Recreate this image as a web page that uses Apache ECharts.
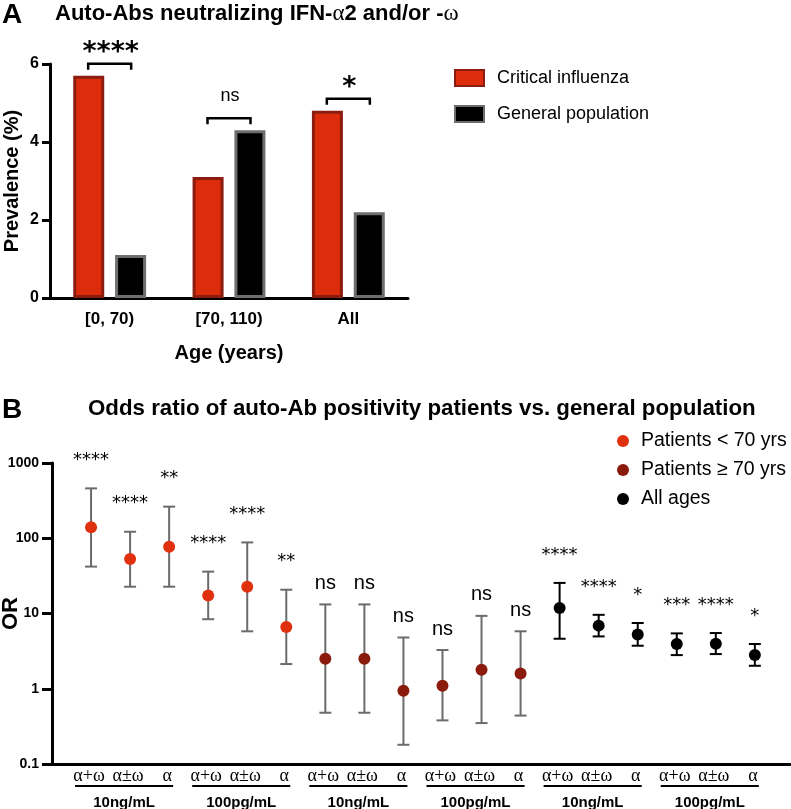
<!DOCTYPE html>
<html>
<head>
<meta charset="utf-8">
<script src="https://cdn.jsdelivr.net/npm/echarts@6/dist/echarts.min.js"></script>
<style>
html, body { margin: 0; padding: 0; background: #fff; }
#main { width: 791px; height: 809px; }
</style>
</head>
<body>
<div id="main"></div>
<script>
// ---- panel A : prevalence ----
var ageGroups = ['[0, 70)', '[70, 110)', 'All'];
var criticalFlu = [5.7, 3.1, 4.8];
var generalPop = [1.1, 4.3, 2.2];
var sigA = ['****', 'ns', '*'];

// ---- panel B : odds ratios ----
var subLabels = ['α+ω', 'α±ω', 'α', 'α+ω', 'α±ω', 'α',
                 'α+ω', 'α±ω', 'α', 'α+ω', 'α±ω', 'α',
                 'α+ω', 'α±ω', 'α', 'α+ω', 'α±ω', 'α'];
var concLabels = ['10ng/mL', '100pg/mL', '10ng/mL', '100pg/mL', '10ng/mL', '100pg/mL'];

var orUnder70 = [140, 53, 77, 17.4, 22.7, 6.6];
var loUnder70 = [42, 22.7, 22.7, 8.4, 5.8, 2.13];
var hiUnder70 = [460, 122, 263, 36, 88, 20.7];
var sigUnder70 = ['****', '****', '**', '****', '****', '**'];

var orOver70 = [2.5, 2.5, 0.94, 1.1, 1.79, 1.6];
var loOver70 = [0.48, 0.48, 0.18, 0.38, 0.35, 0.44];
var hiOver70 = [13.2, 13.2, 4.8, 3.27, 9.3, 5.8];
var sigOver70 = ['ns', 'ns', 'ns', 'ns', 'ns', 'ns'];

var orAll = [11.8, 6.9, 5.27, 3.93, 3.97, 2.8];
var loAll = [4.62, 4.96, 3.73, 2.8, 2.89, 2.02];
var hiAll = [25.5, 9.6, 7.48, 5.44, 5.5, 3.93];
var sigAll = ['****', '****', '*', '***', '****', '*'];

var RED = '#e0300e', DARKRED = '#8a1a0c', GREY = '#6b6b6b';
var SANS = 'Liberation Sans, Arial, sans-serif';
var SERIF = 'Liberation Serif, Times New Roman, serif';

var chart = echarts.init(document.getElementById('main'));

function isStars(s) { return s.indexOf('*') >= 0; }

// points of each age group sit at x = offset .. offset+5
function points(vals, offset) {
  return vals.map(function (v, i) { return [offset + i, v]; });
}
function bars(lo, hi, offset) {
  return lo.map(function (v, i) { return [offset + i, v, hi[i]]; });
}

function errorBars(sigs, color) {
  return function (params, api) {
    var x = api.value(0);
    var lo = api.coord([x, api.value(1)]);
    var hi = api.coord([x, api.value(2)]);
    var st = { stroke: color, lineWidth: 2 };
    var s = sigs[params.dataIndex];
    return {
      type: 'group',
      children: [
        { type: 'line', shape: { x1: lo[0], y1: lo[1], x2: hi[0], y2: hi[1] }, style: st },
        { type: 'line', shape: { x1: lo[0] - 6, y1: lo[1], x2: lo[0] + 6, y2: lo[1] }, style: st },
        { type: 'line', shape: { x1: hi[0] - 6, y1: hi[1], x2: hi[0] + 6, y2: hi[1] }, style: st },
        {
          type: 'text', x: hi[0], y: hi[1] - (isStars(s) ? 28 : 21),
          style: {
            text: s, fill: '#000', align: 'center', verticalAlign: 'middle',
            fontSize: isStars(s) ? 18 : 20,
            fontFamily: isStars(s) ? 'DejaVu Sans' : SANS
          }
        }
      ]
    };
  };
}

var option = {
  backgroundColor: '#fff',
  animation: false,
  title: [
    { text: 'A', left: 2, top: 1, padding: 0,
      textStyle: { fontSize: 28, fontWeight: 'bold', color: '#000', fontFamily: SANS } },
    { text: 'Auto-Abs neutralizing IFN-{g|α}2 and/or -{g|ω}', left: 55, top: 2, padding: 0,
      textStyle: { fontSize: 22, fontWeight: 'bold', color: '#000', fontFamily: SANS,
        rich: { g: { fontSize: 23, fontWeight: 'normal', fontFamily: SERIF, color: '#000' } } } },
    { text: 'B', left: 2, top: 396, padding: 0,
      textStyle: { fontSize: 28, fontWeight: 'bold', color: '#000', fontFamily: SANS } },
    { text: 'Odds ratio of auto-Ab positivity patients vs. general population', left: 88, top: 398, padding: 0,
      textStyle: { fontSize: 22.3, fontWeight: 'bold', color: '#000', fontFamily: SANS } }
  ],
  legend: [
    { data: ['Critical influenza', 'General population'], orient: 'vertical', padding: 0,
      left: 454, top: 69, itemWidth: 29, itemHeight: 16, itemGap: 18, icon: 'rect',
      textStyle: { fontSize: 18, color: '#000', fontFamily: SANS, padding: [0, 0, 0, 8] } },
    { data: ['Patients < 70 yrs', 'Patients ≥ 70 yrs', 'All ages'], orient: 'vertical', padding: 0,
      left: 617, top: 431, itemWidth: 12, itemHeight: 12, itemGap: 9, icon: 'circle',
      textStyle: { fontSize: 19.5, color: '#000', fontFamily: SANS, padding: [0, 0, 0, 7] } }
  ],
  grid: [
    { left: 50, top: 64, width: 358, height: 234, outerBoundsMode: 'none' },
    { left: 52, top: 463, width: 738, height: 301, outerBoundsMode: 'none' }
  ],
  xAxis: [
    { gridIndex: 0, type: 'category', data: ageGroups,
      axisLine: { lineStyle: { color: '#000', width: 3 } },
      axisTick: { alignWithLabel: true, length: 8, lineStyle: { color: '#000', width: 3 } },
      axisLabel: { fontSize: 17, fontWeight: 'bold', color: '#000', fontFamily: SANS, margin: 13 },
      name: 'Age (years)', nameLocation: 'middle', nameGap: 45, nameMoveOverlap: false,
      nameTextStyle: { fontSize: 20, fontWeight: 'bold', color: '#000', fontFamily: SANS } },
    { gridIndex: 1, type: 'value', min: -1, max: 17.9,
      axisLine: { onZero: false, lineStyle: { color: '#000', width: 3 } },
      axisTick: { show: false }, axisLabel: { show: false }, splitLine: { show: false } }
  ],
  yAxis: [
    { gridIndex: 0, type: 'value', min: 0, max: 6, interval: 2,
      axisLine: { show: true, onZero: false, lineStyle: { color: '#000', width: 3 } },
      axisTick: { show: true, length: 8, lineStyle: { color: '#000', width: 3 } },
      axisLabel: { fontSize: 16, fontWeight: 'bold', color: '#000', fontFamily: SANS, margin: 11 },
      splitLine: { show: false },
      name: 'Prevalence (%)', nameLocation: 'middle', nameGap: 28, nameMoveOverlap: false,
      nameTextStyle: { fontSize: 20, fontWeight: 'bold', color: '#000', fontFamily: SANS } },
    { gridIndex: 1, type: 'log', logBase: 10, min: 0.1, max: 1000,
      axisLine: { show: true, onZero: false, lineStyle: { color: '#000', width: 3 } },
      axisTick: { show: true, length: 10, lineStyle: { color: '#000', width: 3 } },
      minorTick: { show: false },
      axisLabel: { fontSize: 14, fontWeight: 'bold', color: '#000', fontFamily: SANS, margin: 13,
        formatter: function (v) { return String(+v.toPrecision(6)); } },
      splitLine: { show: false },
      name: 'OR', nameLocation: 'middle', nameGap: 30, nameMoveOverlap: false,
      nameTextStyle: { fontSize: 22, fontWeight: 'bold', color: '#000', fontFamily: SANS } }
  ],
  series: [
    { type: 'bar', name: 'Critical influenza', xAxisIndex: 0, yAxisIndex: 0, data: criticalFlu,
      barWidth: 31, barGap: '35%',
      itemStyle: { color: '#dd2c0c', borderColor: '#8a1d10', borderWidth: 3 } },
    { type: 'bar', name: 'General population', xAxisIndex: 0, yAxisIndex: 0, data: generalPop,
      barWidth: 31, barGap: '35%',
      itemStyle: { color: '#000', borderColor: '#6e6e6e', borderWidth: 3 } },
    // significance brackets, panel A
    { type: 'custom', xAxisIndex: 0, yAxisIndex: 0, z: 5,
      data: ageGroups.map(function (g, i) { return [i, Math.max(criticalFlu[i], generalPop[i])]; }),
      renderItem: function (params, api) {
        var p = api.coord([api.value(0), api.value(1)]);
        var y = p[1] - 12, x1 = p[0] - 21.5, x2 = p[0] + 21.5;
        var s = sigA[params.dataIndex];
        var st = { stroke: '#000', lineWidth: 2.5, fill: null };
        return {
          type: 'group',
          children: [
            { type: 'polyline', shape: { points: [[x1, y + 6], [x1, y], [x2, y], [x2, y + 6]] }, style: st },
            { type: 'text', x: p[0] + 1, y: y - (isStars(s) ? 11 : 22),
              style: { text: s, fill: '#000', align: 'center', verticalAlign: 'middle',
                fontSize: isStars(s) ? 27 : 18, fontWeight: isStars(s) ? 'bold' : 'normal',
                fontFamily: isStars(s) ? 'DejaVu Sans' : SANS } }
          ]
        };
      } },
    // panel B error bars
    { type: 'custom', xAxisIndex: 1, yAxisIndex: 1, z: 2, data: bars(loUnder70, hiUnder70, 0),
      renderItem: errorBars(sigUnder70, GREY) },
    { type: 'custom', xAxisIndex: 1, yAxisIndex: 1, z: 2, data: bars(loOver70, hiOver70, 6),
      renderItem: errorBars(sigOver70, GREY) },
    { type: 'custom', xAxisIndex: 1, yAxisIndex: 1, z: 2, data: bars(loAll, hiAll, 12),
      renderItem: errorBars(sigAll, '#000') },
    // panel B points
    { type: 'scatter', name: 'Patients < 70 yrs', xAxisIndex: 1, yAxisIndex: 1, z: 3,
      symbolSize: 12, itemStyle: { color: RED, opacity: 1 }, data: points(orUnder70, 0) },
    { type: 'scatter', name: 'Patients ≥ 70 yrs', xAxisIndex: 1, yAxisIndex: 1, z: 3,
      symbolSize: 12, itemStyle: { color: DARKRED, opacity: 1 }, data: points(orOver70, 6) },
    { type: 'scatter', name: 'All ages', xAxisIndex: 1, yAxisIndex: 1, z: 3,
      symbolSize: 12, itemStyle: { color: '#000', opacity: 1 }, data: points(orAll, 12) },
    // panel B category labels under the axis
    { type: 'custom', xAxisIndex: 1, yAxisIndex: 1, z: 2,
      data: concLabels.map(function (c, g) { return [g * 3 + 1, 0.1]; }),
      renderItem: function (params, api) {
        var g = params.dataIndex;
        var mid = api.value(0);
        var a = api.coord([mid - 1, 0.1]), b = api.coord([mid, 0.1]), c = api.coord([mid + 1, 0.1]);
        var y = b[1];
        var kids = [];
        [a, b, c].forEach(function (p, k) {
          kids.push({ type: 'text', x: p[0] - 2, y: y + 12,
            style: { text: subLabels[g * 3 + k], fill: '#000', align: 'center', verticalAlign: 'middle',
              fontSize: 18, fontFamily: SERIF } });
        });
        kids.push({ type: 'line', shape: { x1: a[0] - 16, y1: y + 22, x2: c[0] + 4, y2: y + 22 },
          style: { stroke: '#000', lineWidth: 2 } });
        kids.push({ type: 'text', x: b[0] - 6, y: y + 39,
          style: { text: concLabels[g], fill: '#000', align: 'center', verticalAlign: 'middle',
            fontSize: 15, fontWeight: 'bold', fontFamily: SANS } });
        return { type: 'group', children: kids };
      } }
  ]
};

chart.setOption(option);
</script>
</body>
</html>
